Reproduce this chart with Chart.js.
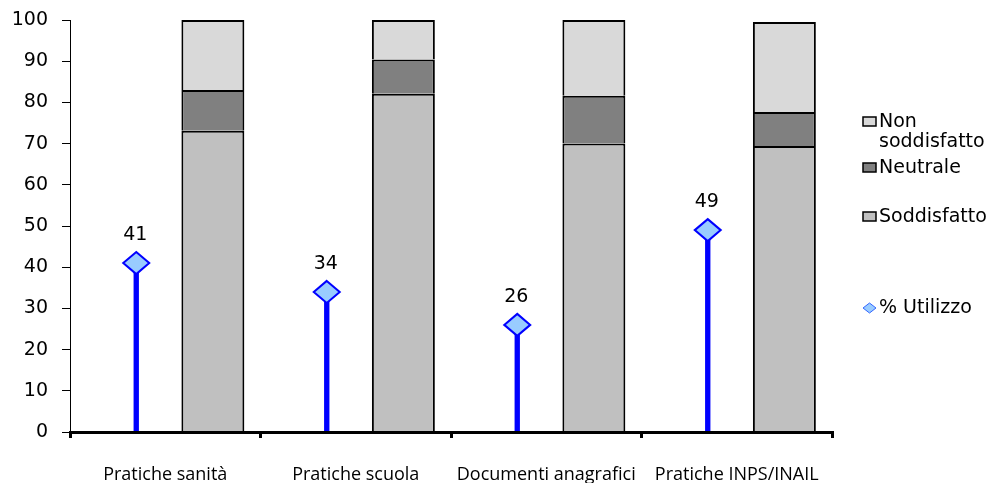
<!DOCTYPE html>
<html lang="it">
<head>
<meta charset="utf-8">
<title>Utilizzo e soddisfazione per tipo di pratica</title>
<script src="https://cdn.jsdelivr.net/npm/chart.js@4.4.1/dist/chart.umd.min.js"></script>
<style>
  html, body { margin: 0; padding: 0; background: #ffffff; }
  #wrap { position: relative; width: 992px; height: 483px; }
</style>
</head>
<body>
<div id="wrap"><canvas id="chart" width="992" height="483"></canvas></div>
<script>
// Categorie (pratiche)
const categories = ['Pratiche sanità', 'Pratiche scuola', 'Documenti anagrafici', 'Pratiche INPS/INAIL'];

// Percentuale di utilizzo del servizio
const utilizzo = [41, 34, 26, 49];

// Giudizio degli utenti (%)
const soddisfatto    = [73.1, 82.1, 70.0, 69.4];
const neutrale       = [9.9, 8.3, 11.6, 8.3];
const nonSoddisfatto = [17.0, 9.6, 18.4, 21.8];

// Scala verticale
const yTicks = [0, 10, 20, 30, 40, 50, 60, 70, 80, 90, 100];

const COL_SODD = '#c0c0c0';
const COL_NEUT = '#808080';
const COL_NON  = '#d9d9d9';
const COL_STEM = '#0000ff';
const COL_DIAM = '#99ccff';
const FONT_MAIN = '"DejaVu Sans", sans-serif';

// Rombo in cima a ogni asta di utilizzo, con il valore sopra
const diamondPlugin = {
  id: 'diamondTops',
  afterDatasetsDraw(chart) {
    const meta = chart.getDatasetMeta(0);
    const ctx = chart.ctx;
    const values = chart.data.datasets[0].data;
    ctx.save();
    meta.data.forEach((el, i) => {
      const x = el.x, y = el.y;
      ctx.beginPath();
      ctx.moveTo(x, y - 11);
      ctx.lineTo(x + 13, y);
      ctx.lineTo(x, y + 11);
      ctx.lineTo(x - 13, y);
      ctx.closePath();
      ctx.fillStyle = COL_DIAM;
      ctx.fill();
      ctx.lineWidth = 2;
      ctx.strokeStyle = COL_STEM;
      ctx.stroke();
      ctx.fillStyle = '#000';
      ctx.font = '19px ' + FONT_MAIN;
      ctx.textAlign = 'center';
      ctx.textBaseline = 'alphabetic';
      ctx.fillText(String(values[i]), x - 1, y - 23);
    });
    ctx.restore();
  }
};

// Legenda a destra
const legendPlugin = {
  id: 'sideLegend',
  afterDraw(chart) {
    const ctx = chart.ctx;
    const ds = chart.data.datasets;
    const boxX = 863, textX = 879;
    const items = [
      { set: ds[3], lines: ['Non', 'soddisfatto'], base: 127 },
      { set: ds[2], lines: ['Neutrale'], base: 173 },
      { set: ds[1], lines: ['Soddisfatto'], base: 222 },
      { set: ds[0], lines: ['% Utilizzo'], base: 313, diamond: true }
    ];
    ctx.save();
    ctx.font = '19px ' + FONT_MAIN;
    ctx.textAlign = 'left';
    ctx.textBaseline = 'alphabetic';
    items.forEach(it => {
      if (it.diamond) {
        const cx = boxX + 6.5, cy = it.base - 5;
        ctx.beginPath();
        ctx.moveTo(cx, cy - 5);
        ctx.lineTo(cx + 6.5, cy);
        ctx.lineTo(cx, cy + 5);
        ctx.lineTo(cx - 6.5, cy);
        ctx.closePath();
        ctx.fillStyle = COL_DIAM;
        ctx.fill();
        ctx.lineWidth = 1;
        ctx.strokeStyle = '#3366ff';
        ctx.stroke();
      } else {
        ctx.fillStyle = it.set.backgroundColor;
        ctx.fillRect(boxX, it.base - 10, 13, 9);
        ctx.lineWidth = 1.5;
        ctx.strokeStyle = '#000';
        ctx.strokeRect(boxX, it.base - 10, 13, 9);
      }
      ctx.fillStyle = '#000';
      it.lines.forEach((t, k) => ctx.fillText(t, textX, it.base + k * 20));
    });
    ctx.restore();
  }
};

new Chart(document.getElementById('chart'), {
  type: 'bar',
  data: {
    labels: categories,
    datasets: [
      {
        label: '% Utilizzo',
        data: utilizzo,
        stack: 'uso',
        backgroundColor: COL_STEM,
        borderWidth: 0,
        categoryPercentage: 0.609,
        barPercentage: 0.092
      },
      {
        label: 'Soddisfatto',
        data: soddisfatto,
        stack: 'giudizio',
        backgroundColor: COL_SODD,
        borderColor: '#000',
        borderWidth: 2,
        categoryPercentage: 1.0,
        barPercentage: 0.661
      },
      {
        label: 'Neutrale',
        data: neutrale,
        stack: 'giudizio',
        backgroundColor: COL_NEUT,
        borderColor: '#000',
        borderWidth: 2,
        categoryPercentage: 1.0,
        barPercentage: 0.661
      },
      {
        label: 'Non soddisfatto',
        data: nonSoddisfatto,
        stack: 'giudizio',
        backgroundColor: COL_NON,
        borderColor: '#000',
        borderWidth: 2,
        categoryPercentage: 1.0,
        barPercentage: 0.661
      }
    ]
  },
  options: {
    responsive: false,
    animation: false,
    events: [],
    layout: { padding: { top: 20, right: 160, bottom: 0, left: 0 } },
    plugins: {
      legend: { display: false },
      tooltip: { enabled: false },
      title: { display: false }
    },
    scales: {
      x: {
        stacked: true,
        offset: true,
        afterFit(scale) { scale.height = 51; },
        grid: {
          display: true,
          offset: true,
          drawOnChartArea: false,
          drawTicks: true,
          tickLength: 6,
          lineWidth: 3,
          color: '#000'
        },
        border: { display: true, color: '#000', width: 3, z: 1 },
        ticks: {
          color: '#000',
          font: { family: '"Open Sans", sans-serif', size: 18 },
          padding: 26,
          maxRotation: 0,
          autoSkip: false
        }
      },
      y: {
        stacked: true,
        min: 0,
        max: 100,
        afterFit(scale) {
          scale.width = 70;
          scale.paddingTop = 10;
          scale.paddingBottom = 10;
        },
        afterBuildTicks(scale) { scale.ticks = yTicks.map(v => ({ value: v })); },
        grid: {
          display: true,
          drawOnChartArea: false,
          drawTicks: true,
          tickLength: 8,
          lineWidth: 1,
          color: '#000'
        },
        border: { display: true, color: '#000', width: 1 },
        ticks: {
          color: '#000',
          font: { family: FONT_MAIN, size: 19 },
          padding: 14
        }
      }
    }
  },
  plugins: [diamondPlugin, legendPlugin]
});
</script>
</body>
</html>
